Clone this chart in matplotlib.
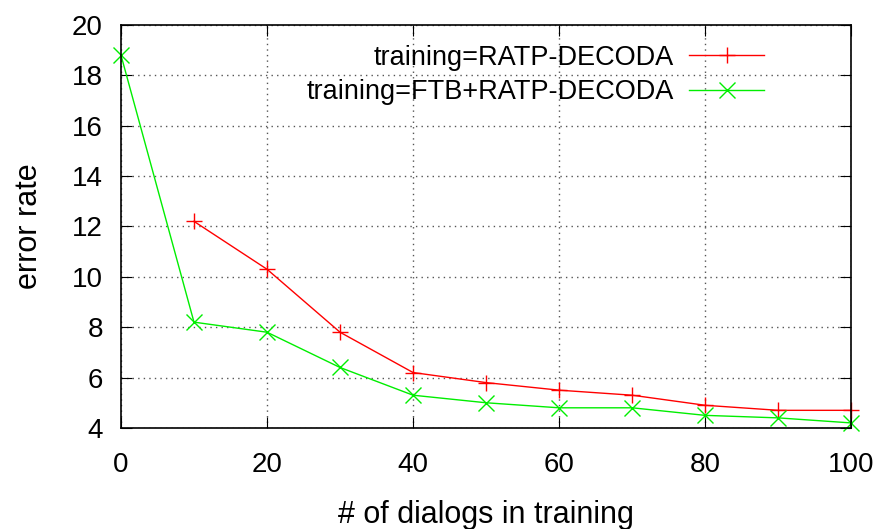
import numpy as np
import matplotlib.pyplot as plt

plt.rcParams['font.family'] = ['Liberation Sans', 'DejaVu Sans']

dialogs_red = [10, 20, 30, 40, 50, 60, 70, 80, 90, 100]
err_red = [12.2, 10.3, 7.8, 6.2, 5.8, 5.5, 5.3, 4.9, 4.7, 4.7]

dialogs_green = [0, 10, 20, 30, 40, 50, 60, 70, 80, 90, 100]
err_green = [18.8, 8.2, 7.8, 6.4, 5.3, 5.0, 4.8, 4.8, 4.5, 4.4, 4.2]

fig = plt.figure(figsize=(8.83, 5.29), dpi=100)
ax = fig.add_axes([0.137, 0.191, 0.827, 0.762])

ax.plot(dialogs_red, err_red, color='#ff0000', lw=1, marker='+', ms=12, mew=1,
        label='training=RATP-DECODA', clip_on=False)
ax.plot(dialogs_green, err_green, color='#00ee00', lw=1, marker='x', ms=11, mew=1,
        label='training=FTB+RATP-DECODA', clip_on=False)

ax.set_xlim(0, 100)
ax.set_ylim(4, 20)
ax.set_xticks(np.arange(0, 101, 20))
ax.set_yticks(np.arange(4, 21, 2))
ax.tick_params(direction='in', top=True, right=True, labelsize=20, length=8)
ax.tick_params(axis='x', pad=17)
ax.tick_params(axis='y', pad=13)
ax.grid(True, color='#555555', linestyle=(0, (1, 3)), lw=1)
for s in ax.spines.values():
    s.set_linewidth(1.2)

ax.set_xlabel('# of dialogs in training', fontsize=22, labelpad=16)
ax.set_ylabel('error rate', fontsize=22, labelpad=20)

leg = ax.legend(loc='upper right', frameon=False, markerfirst=False, fontsize=19.5,
                handlelength=2.8, handletextpad=0.55, labelspacing=0.3,
                borderaxespad=0, bbox_to_anchor=(0.896, 0.977))
for t in leg.get_texts():
    t.set_ha('right')

fig.savefig('out.png', dpi=100)
